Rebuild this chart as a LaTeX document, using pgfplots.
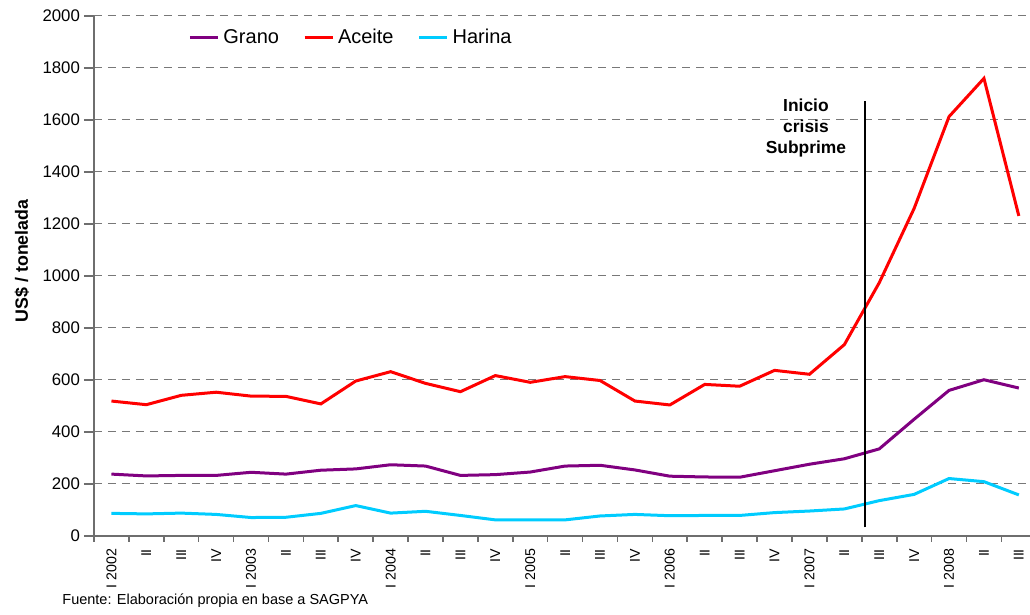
\documentclass[border=0pt]{standalone}
\usepackage{fontspec}
\setmainfont{Liberation Sans}
\usepackage{pgfplots}
\pgfplotsset{compat=1.18}
\definecolor{grano}{RGB}{128,0,128}
\definecolor{aceite}{RGB}{255,0,0}
\definecolor{harina}{RGB}{0,204,255}
\definecolor{gridc}{RGB}{120,120,120}
\definecolor{axisc}{RGB}{110,110,110}
\begin{document}
\begin{tikzpicture}
\useasboundingbox (-47pt,-39.5pt) rectangle (468pt,268pt);
\begin{axis}[
  at={(0,0)}, anchor=south west,
  x=17.45pt, y=0.13pt,
  xmin=-0.5, xmax=26.32, ymin=0, ymax=2000,
  axis x line*=bottom, axis y line*=left,
  axis line style={axisc, line width=0.8pt},
  tick style={axisc, line width=0.8pt},
  tick align=outside,
  major tick length=0pt,
  ytick={0,200,...,2000},
  ymajorgrids,
  grid style={gridc, dash pattern=on 4pt off 3pt, line width=0.5pt},
  extra y ticks={0,200,...,2000}, extra y tick labels={},
  extra y tick style={grid=none, major tick length=5pt},
  xtick={0,...,26},
  xticklabels={I 2002,II,III,IV,I 2003,II,III,IV,I 2004,II,III,IV,I 2005,II,III,IV,I 2006,II,III,IV,I 2007,II,III,IV,I 2008,II,III},
  extra x ticks={-0.5,0.5,...,25.5}, extra x tick labels={},
  extra x tick style={grid=none, major tick length=3pt},
  /pgf/number format/assume math mode=true,
  /pgf/number format/1000 sep={},
  yticklabel style={font=\fontsize{8.4}{10}\selectfont, black},
  yticklabel shift=3.5pt,
  xticklabel style={font=\fontsize{7.1}{8.5}\selectfont, black, rotate=90, anchor=east},
  xticklabel shift=3pt,
  ylabel={US\$ / tonelada},
  ylabel style={at={(axis description cs:-0.0769,0.529)}, anchor=center, font=\bfseries\fontsize{8.9}{10.5}\selectfont},
  legend style={at={(0.2756,0.9577)}, anchor=center, draw=none, fill=none,
    legend columns=-1, font=\fontsize{10}{12}\selectfont,
    /tikz/every even column/.append style={column sep=10pt}},
  legend image code/.code={\draw[#1, line width=1.5pt] (0pt,0pt) -- (14pt,0pt);},
]
\addplot[grano, line width=1.5pt, mark=none] coordinates {
(0,238) (1,231) (2,233) (3,233) (4,245) (5,238) (6,253) (7,258) (8,274) (9,269)
(10,233) (11,236) (12,246) (13,269) (14,272) (15,254) (16,230) (17,227) (18,226)
(19,251) (20,276) (21,297) (22,335) (23,449) (24,560) (25,601) (26,569)};
\addlegendentry{Grano}
\addplot[aceite, line width=1.5pt, mark=none] coordinates {
(0,519) (1,505) (2,541) (3,553) (4,538) (5,537) (6,508) (7,596) (8,632) (9,587)
(10,555) (11,617) (12,591) (13,613) (14,598) (15,519) (16,504) (17,583) (18,576)
(19,637) (20,622) (21,736) (22,974) (23,1260) (24,1613) (25,1760) (26,1231)};
\addlegendentry{Aceite}
\addplot[harina, line width=1.5pt, mark=none] coordinates {
(0,87) (1,85) (2,88) (3,83) (4,71) (5,72) (6,87) (7,117) (8,88) (9,95)
(10,79) (11,62) (12,62) (13,62) (14,77) (15,83) (16,78) (17,79) (18,79)
(19,90) (20,96) (21,104) (22,136) (23,160) (24,221) (25,209) (26,158)};
\addlegendentry{Harina}
\draw[black, line width=1pt] (axis cs:21.59,33) -- (axis cs:21.59,1674);
\node[font=\bfseries\fontsize{8.7}{10.65}\selectfont, align=center] at (axis cs:19.9,1569) {Inicio\\crisis\\Subprime};
\end{axis}
\node[anchor=west, inner sep=0pt, font=\fontsize{7.25}{8.7}\selectfont] at (-16pt,-32.5pt) {Fuente: Elaboración propia en base a SAGPYA};
\end{tikzpicture}
\end{document}
